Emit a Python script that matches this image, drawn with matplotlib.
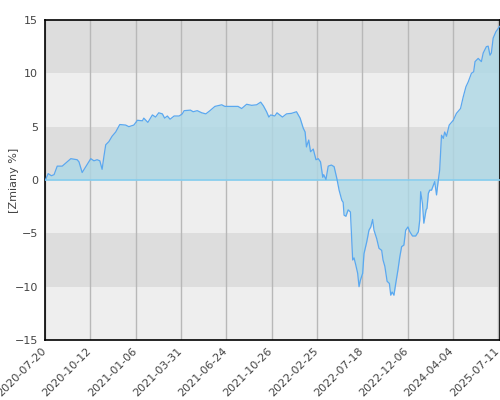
import matplotlib
matplotlib.use('Agg')
import matplotlib.pyplot as plt
from matplotlib.transforms import ScaledTranslation

# position along the (session-indexed) x axis, in tick units, and % change
pos = [0.0, 0.02, 0.07, 0.14, 0.20, 0.27, 0.38, 0.46, 0.57, 0.71, 0.75, 0.82, 0.90,
       1.01, 1.08, 1.15, 1.21, 1.26, 1.30, 1.34, 1.41, 1.48, 1.56, 1.65, 1.78, 1.85, 1.96,
       2.04, 2.15, 2.18, 2.27, 2.37, 2.44, 2.51, 2.59, 2.64, 2.70, 2.76, 2.85, 2.96,
       3.03, 3.07, 3.21, 3.27, 3.36, 3.46, 3.55, 3.64, 3.75, 3.90, 3.97,
       4.12, 4.26, 4.34, 4.45, 4.56, 4.67, 4.76, 4.82, 4.89, 4.94, 4.98,
       5.07, 5.12, 5.18, 5.24, 5.33, 5.44, 5.55, 5.63, 5.70, 5.74, 5.77, 5.82, 5.86, 5.92, 5.98,
       6.03, 6.08, 6.13, 6.15, 6.20, 6.25, 6.32, 6.38, 6.44, 6.49, 6.55, 6.58, 6.60, 6.64, 6.69,
       6.74, 6.79, 6.82, 6.86, 6.90, 6.93, 6.96,
       7.01, 7.04, 7.10, 7.15, 7.19, 7.23, 7.26, 7.32, 7.37, 7.43, 7.46, 7.50, 7.55, 7.60,
       7.63, 7.66, 7.70, 7.74, 7.79, 7.83, 7.87, 7.92, 7.96,
       8.01, 8.05, 8.11, 8.18, 8.24, 8.27, 8.29, 8.33, 8.36, 8.41, 8.43, 8.46, 8.49, 8.53,
       8.57, 8.60, 8.64, 8.68, 8.71, 8.75, 8.79, 8.82, 8.86, 8.92,
       9.01, 9.08, 9.17, 9.23, 9.29, 9.34, 9.41, 9.46, 9.49, 9.56, 9.63, 9.67, 9.74, 9.78,
       9.82, 9.85, 9.89, 9.95, 10.0, 10.03]
change = [0.0, 0.1, 0.6, 0.4, 0.5, 1.3, 1.3, 1.6, 2.0, 1.9, 1.7, 0.7, 1.25,
          2.0, 1.8, 1.9, 1.8, 1.0, 2.2, 3.3, 3.6, 4.1, 4.5, 5.2, 5.15, 5.0, 5.15,
          5.6, 5.55, 5.8, 5.4, 6.1, 5.9, 6.3, 6.2, 5.8, 6.0, 5.7, 6.0, 6.0,
          6.2, 6.5, 6.55, 6.4, 6.5, 6.3, 6.2, 6.5, 6.9, 7.05, 6.9,
          6.9, 6.9, 6.7, 7.1, 7.0, 7.05, 7.3, 6.95, 6.4, 5.9, 6.1,
          6.0, 6.3, 6.1, 5.9, 6.2, 6.25, 6.4, 5.8, 4.85, 4.5, 3.1, 3.75, 2.65, 2.9, 1.9,
          2.0, 1.7, 0.25, 0.5, 0.05, 1.3, 1.4, 1.25, 0.15, -0.95, -1.9, -2.1, -3.3, -3.4, -2.8,
          -3.0, -7.5, -7.3, -8.0, -8.75, -10.0, -9.4,
          -8.75, -6.9, -5.8, -4.7, -4.4, -3.7, -4.7, -5.5, -6.4, -6.6, -7.5, -8.1, -9.5, -9.7,
          -10.8, -10.5, -10.8, -9.7, -8.4, -7.2, -6.25, -6.1, -4.7,
          -4.4, -4.85, -5.25, -5.25, -4.85, -3.75, -1.1, -2.2, -4.05, -2.8, -2.65, -1.25, -0.95, -0.95,
          -0.5, -0.15, -1.4, 0.0, 0.95, 4.2, 3.9, 4.5, 4.1, 5.15,
          5.6, 6.25, 6.7, 7.8, 8.75, 9.2, 10.0, 10.15, 11.1, 11.4, 11.1, 11.9, 12.5, 12.55,
          11.7, 11.9, 13.3, 13.9, 14.2, 14.4]

tick_labels = ['2020-07-20', '2020-10-12', '2021-01-06', '2021-03-31', '2021-06-24',
               '2021-10-26', '2022-02-25', '2022-07-18', '2022-12-06', '2024-04-04',
               '2025-07-11']
y_ticks = [-15, -10, -5, 0, 5, 10, 15]

fig = plt.figure(figsize=(5, 4), dpi=100)
ax = fig.add_axes([0.09, 0.15, 0.909, 0.80])

# alternating horizontal bands
for i in range(len(y_ticks) - 1):
    lo, hi = y_ticks[i], y_ticks[i + 1]
    shade = '#dddddd' if i % 2 == 1 else '#eeeeee'
    ax.axhspan(lo, hi, color=shade, lw=0, zorder=0)

for k in range(len(tick_labels)):
    ax.axvline(k, color='#b8b8b8', lw=1, zorder=1)

ax.fill_between(pos, change, 0, color='#add8e6', alpha=0.8, lw=0, zorder=2)
ax.axhline(0, color='#87cdee', lw=1.2, zorder=3)
ax.plot(pos, change, color='#5aa8f0', lw=0.9, zorder=4)

ax.set_xlim(0, pos[-1])
ax.set_ylim(-15, 15)
ax.set_yticks(y_ticks)
ax.set_xticks(range(len(tick_labels)))
ax.set_xticklabels(tick_labels, rotation=45, ha='right', rotation_mode='anchor')
ax.tick_params(length=0, labelsize=8, colors='#444444', pad=5)
ax.tick_params(axis='x', pad=4)
shift = ScaledTranslation(-3 / 72, 0, fig.dpi_scale_trans)
for lbl in ax.get_xticklabels():
    lbl.set_transform(lbl.get_transform() + shift)
for s in ax.spines.values():
    s.set_color('black')
    s.set_linewidth(1.2)
ax.set_ylabel('[Zmiany %]', fontsize=8, color='#444444')
ax.yaxis.set_label_coords(-0.057, 0.5)

plt.savefig('out.png')
